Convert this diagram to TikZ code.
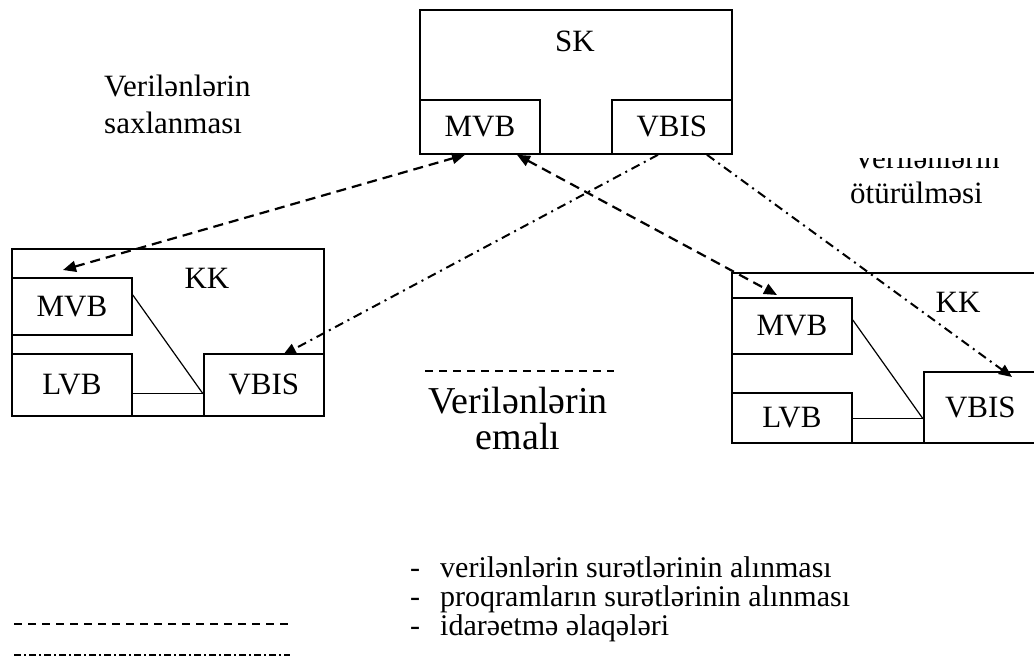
\documentclass[tikz,border=0pt]{standalone}
\usepackage{fontspec}
\setmainfont{Liberation Serif}
\usetikzlibrary{arrows.meta,calc}
\begin{document}
\begin{tikzpicture}[x=1pt,y=-1pt,
  outer/.style={draw,line width=1.8pt,inner sep=0pt,anchor=north west},
  unit/.style={draw,line width=1.8pt,inner sep=0pt,anchor=north west,
    font=\fontsize{31}{37}\selectfont},
  lbl/.style={inner sep=0pt,font=\fontsize{31}{37}\selectfont},
  side/.style={inner sep=0pt,anchor=base west,font=\fontsize{31}{37}\selectfont},
  mid/.style={inner sep=0pt,anchor=base,font=\fontsize{38}{42}\selectfont},
  legtxt/.style={inner sep=0pt,anchor=base west,font=\fontsize{30}{34}\selectfont},
  wire/.style={line width=1.2pt},
  copyline/.style={line width=2.2pt,dash pattern=on 10pt off 6pt},
  ctrlline/.style={line width=2pt,dash pattern=on 9pt off 5pt on 2pt off 5pt},
  tip/.style={-{Triangle[length=13pt,width=11pt]}},
  tips/.style={{Triangle[length=13pt,width=11pt]}-{Triangle[length=13pt,width=11pt]}}]
\useasboundingbox (0,0) rectangle (1034,659);

% central computer
\node[outer,minimum width=312pt,minimum height=144pt] (sk) at (419,9) {};
\node[lbl] (sklbl) at (575,41) {SK};
\node[unit,minimum width=120pt,minimum height=54pt] (skmvb) at (419,99) {MVB};
\node[unit,minimum width=120pt,minimum height=54pt] (skvbis) at (611,99) {VBIS};

% left client computer
\node[outer,minimum width=312pt,minimum height=167pt] (lkk) at (11,248) {};
\node[lbl] (lkklbl) at (207,278) {KK};
\node[unit,minimum width=120pt,minimum height=57pt] (lmvb) at (11,277) {MVB};
\node[unit,minimum width=120pt,minimum height=62pt] (llvb) at (11,353) {LVB};
\node[unit,minimum width=120pt,minimum height=62pt] (lvbis) at (203,353) {VBIS};
\coordinate (lm1) at ($(lmvb.north east)+(0,18)$);
\coordinate (lv1) at ($(lvbis.south west)+(0,-23)$);
\coordinate (ll1) at ($(llvb.south east)+(0,-23)$);
\draw[wire] (lm1) -- (lv1);
\draw[wire] (ll1) -- (lv1);

% right client computer
\node[outer,minimum width=305pt,minimum height=170pt] (rkk) at (731,272) {};
\node[lbl] (rkklbl) at (958,302) {KK};
\node[unit,minimum width=120pt,minimum height=56pt] (rmvb) at (731,297) {MVB};
\node[unit,minimum width=120pt,minimum height=50pt] (rlvb) at (731,392) {LVB};
\node[unit,minimum width=113pt,minimum height=71pt] (rvbis) at (923,371) {VBIS};
\coordinate (rm1) at ($(rmvb.north east)+(0,23)$);
\coordinate (rv1) at ($(rvbis.south west)+(0,-25)$);
\coordinate (rl1) at ($(rlvb.south east)+(0,-25)$);
\draw[wire] (rm1) -- (rv1);
\draw[wire] (rl1) -- (rv1);

% data copy links
\draw[copyline,tips] ($(lmvb.north west)+(52,-7)$) -- ($(skmvb.south west)+(46,0)$);
\draw[copyline,tips] ($(skmvb.south west)+(98,0)$) -- ($(rmvb.north west)+(46,-2)$);

% program copy links
\draw[ctrlline,tip] ($(skvbis.south west)+(47,0)$) -- ($(lvbis.north west)+(80,2)$);
\draw[ctrlline,tip] ($(skvbis.south west)+(96,0)$) -- ($(rvbis.north west)+(89,6)$);

% captions
\node[side] (sav1) at (104,96) {Verilənlərin};
\node[side] (sav2) at (104,133) {saxlanması};
\begin{scope}
  \clip (840,158) rectangle (1034,215);
  \node[side] (tr1) at (853,168) {Verilənlərin};
\end{scope}
\node[side] (tr2) at (850,203) {ötürülməsi};

\coordinate (emA) at (425,371);
\coordinate (emB) at (614,371);
\draw[line width=1.2pt,dash pattern=on 8pt off 6pt] (emA) -- (emB);
\node[mid] (em1) at (518,413) {Verilənlərin};
\node[mid] (em2) at (518,449) {emalı};

% legend
\node[legtxt] (l1d) at (410,577) {-};
\node[legtxt] (l1) at (440,577) {verilənlərin surətlərinin alınması};
\node[legtxt] (l2d) at (410,606) {-};
\node[legtxt] (l2) at (440,606) {proqramların surətlərinin alınması};
\node[legtxt] (l3d) at (410,635) {-};
\node[legtxt] (l3) at (440,635) {idarəetmə əlaqələri};
\coordinate (ldA) at (14,624);
\coordinate (ldB) at (290,624);
\draw[line width=2pt,dash pattern=on 8pt off 6pt] (ldA) -- (ldB);
\coordinate (lcA) at (14,655);
\coordinate (lcB) at (290,655);
\draw[line width=2pt,dash pattern=on 7pt off 3pt on 2pt off 3pt] (lcA) -- (lcB);
\end{tikzpicture}
\end{document}
